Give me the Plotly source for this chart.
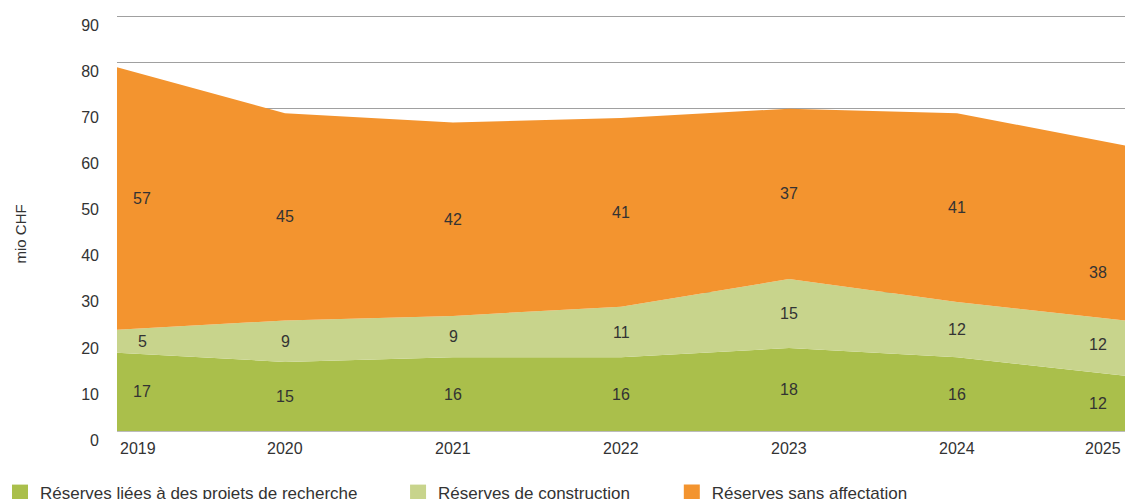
import plotly.graph_objects as go

years = [2019, 2020, 2021, 2022, 2023, 2024, 2025]
recherche = [17, 15, 16, 16, 18, 16, 12]
construction = [5, 9, 9, 11, 15, 12, 12]
sans_affectation = [57, 45, 42, 41, 37, 41, 38]
series_names = ["Réserves liées à des projets de recherche",
                "Réserves de construction",
                "Réserves sans affectation"]
y_ticks = [0, 10, 20, 30, 40, 50, 60, 70, 80, 90]

colors = ["#aabf4b", "#c8d48c", "#f3942f"]
FONT = "Liberation Sans"
TXT = "#333333"

fig = go.Figure()
series = [recherche, construction, sans_affectation]
for i, (name, vals) in enumerate(zip(series_names, series)):
    fig.add_trace(go.Scatter(
        x=years, y=vals, stackgroup="one", mode="none",
        fillcolor=colors[i], name=name, showlegend=False,
        hoverinfo="x+y+name"))

# legend entries (square markers), each in its own legend for exact spacing
legend_x = [-0.0046, 0.3532, 0.5961]
for i, name in enumerate(series_names):
    lg = "legend" if i == 0 else f"legend{i+1}"
    fig.add_trace(go.Scatter(
        x=[None], y=[None], mode="markers", name=name,
        marker=dict(symbol="square", size=16, color=colors[i]),
        legend=lg, showlegend=True))

annotations = []
n = len(years)
cum = [0] * n
for s_idx, vals in enumerate(series):
    for j in range(n):
        mid = cum[j] + vals[j] / 2
        xshift = 25 if j == 0 else (-27 if j == n - 1 else 0)
        yshift = -39 if (j == n - 1 and s_idx == 2) else (4 if (j == n - 1 and s_idx == 1) else 0)
        annotations.append(dict(
            x=years[j], y=mid, xref="x", yref="y", text=str(vals[j]),
            showarrow=False, xshift=xshift, yshift=yshift,
            font=dict(family=FONT, size=16, color=TXT)))
    cum = [c + v for c, v in zip(cum, vals)]

# x tick labels
for j, yr in enumerate(years):
    anchor = "left" if j == 0 else ("right" if j == n - 1 else "center")
    annotations.append(dict(
        x=yr, y=0, xref="x", yref="paper", text=str(yr), showarrow=False,
        xanchor=anchor, yanchor="middle", yshift=-17,
        xshift=1 if j == 0 else (-2 if j == n - 1 else 0),
        font=dict(family=FONT, size=16, color=TXT)))

# y axis title
annotations.append(dict(
    x=0, y=0.5, xref="paper", yref="paper", text="mio CHF", showarrow=False,
    textangle=-90, xanchor="center", yanchor="middle", xshift=-97, yshift=-13,
    font=dict(family=FONT, size=15, color=TXT)))

fig.update_layout(
    width=1127, height=499,
    margin=dict(l=117, r=2, t=12, b=68, autoexpand=False),
    plot_bgcolor="white", paper_bgcolor="white",
    font=dict(family=FONT, size=16, color=TXT),
    annotations=annotations,
    xaxis=dict(range=[years[0], years[-1]], showticklabels=False,
               showgrid=False, zeroline=False, showline=True,
               linecolor="#bbbbbb", linewidth=1, ticks=""),
    yaxis=dict(range=[0, 91], tickvals=y_ticks, showgrid=True,
               gridcolor="#a0a0a0", gridwidth=1, zeroline=False,
               showline=False, ticks="", ticklabelstandoff=17,
               ticklabelshift=9,
               tickfont=dict(family=FONT, size=16, color=TXT)),
)
leg_common = dict(orientation="h", xref="container", yref="container",
                  yanchor="top", y=0.048, xanchor="left", bgcolor="rgba(0,0,0,0)",
                  font=dict(family=FONT, size=17, color=TXT),
                  itemclick=False, itemdoubleclick=False)
fig.update_layout(
    legend=dict(x=legend_x[0], **leg_common),
    legend2=dict(x=legend_x[1], **leg_common),
    legend3=dict(x=legend_x[2], **leg_common),
)

fig.write_html("out.html", config={"displayModeBar": False},
               post_script="document.body.style.margin='0';document.body.style.padding='0';")
